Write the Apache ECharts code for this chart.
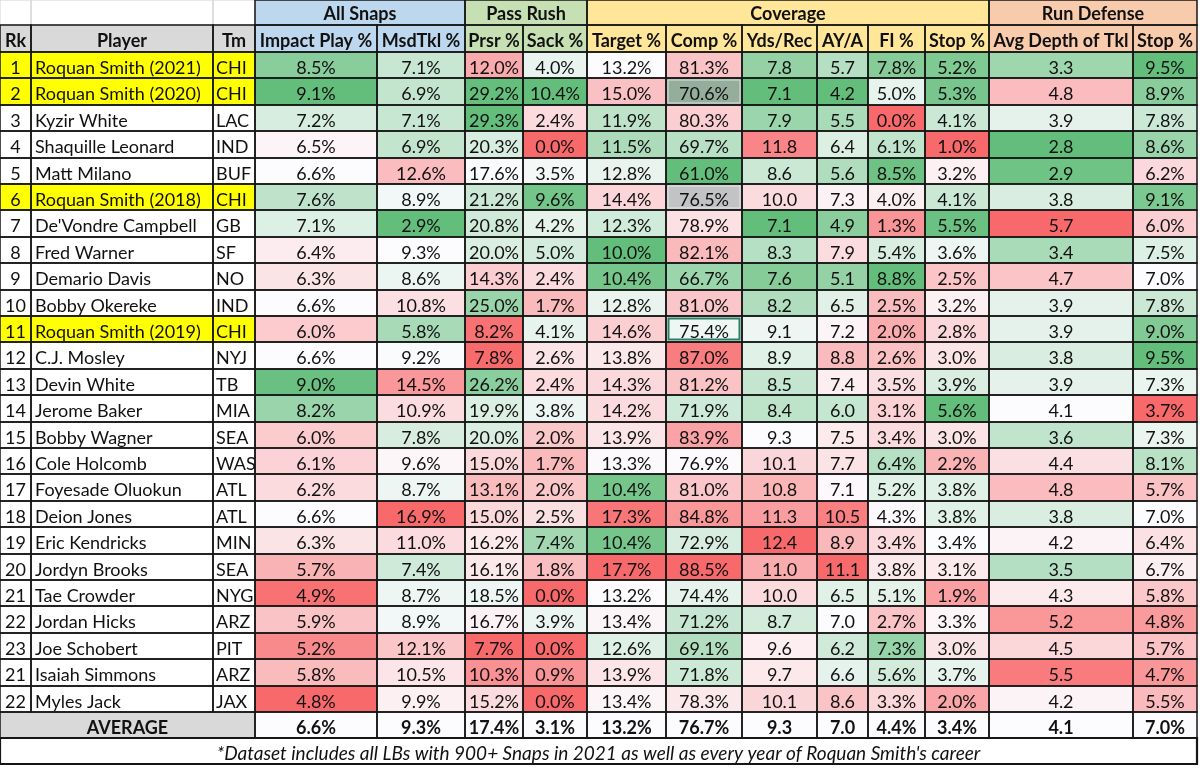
<!DOCTYPE html>
<html><head><meta charset="utf-8">
<script src="https://cdn.jsdelivr.net/npm/echarts@6/dist/echarts.min.js"></script>
<style>html,body{margin:0;padding:0;background:#fff}#c{width:1200px;height:769px}</style>
</head><body><div id="c"></div>
<script>
// ---------------- DATA ----------------
const ranks = ['1','2','3','4','5','6','7','8','9','10','11','12','13','14','15','16','17','18','19','20','21','22','23','21','22'];
const players = ['Roquan Smith (2021)','Roquan Smith (2020)','Kyzir White','Shaquille Leonard','Matt Milano','Roquan Smith (2018)',"De'Vondre Campbell",'Fred Warner','Demario Davis','Bobby Okereke','Roquan Smith (2019)','C.J. Mosley','Devin White','Jerome Baker','Bobby Wagner','Cole Holcomb','Foyesade Oluokun','Deion Jones','Eric Kendricks','Jordyn Brooks','Tae Crowder','Jordan Hicks','Joe Schobert','Isaiah Simmons','Myles Jack'];
const teams = ['CHI','CHI','LAC','IND','BUF','CHI','GB','SF','NO','IND','CHI','NYJ','TB','MIA','SEA','WAS','ATL','ATL','MIN','SEA','NYG','ARZ','PIT','ARZ','JAX'];
const impactPlay = [8.5,9.1,7.2,6.5,6.6,7.6,7.1,6.4,6.3,6.6,6.0,6.6,9.0,8.2,6.0,6.1,6.2,6.6,6.3,5.7,4.9,5.9,5.2,5.8,4.8];
const msdTkl     = [7.1,6.9,7.1,6.9,12.6,8.9,2.9,9.3,8.6,10.8,5.8,9.2,14.5,10.9,7.8,9.6,8.7,16.9,11.0,7.4,8.7,8.9,12.1,10.5,9.9];
const prsr       = [12.0,29.2,29.3,20.3,17.6,21.2,20.8,20.0,14.3,25.0,8.2,7.8,26.2,19.9,20.0,15.0,13.1,15.0,16.2,16.1,18.5,16.7,7.7,10.3,15.2];
const sack       = [4.0,10.4,2.4,0.0,3.5,9.6,4.2,5.0,2.4,1.7,4.1,2.6,2.4,3.8,2.0,1.7,2.0,2.5,7.4,1.8,0.0,3.9,0.0,0.9,0.0];
const target     = [13.2,15.0,11.9,11.5,12.8,14.4,12.3,10.0,10.4,12.8,14.6,13.8,14.3,14.2,13.9,13.3,10.4,17.3,10.4,17.7,13.2,13.4,12.6,13.9,13.4];
const comp       = [81.3,70.6,80.3,69.7,61.0,76.5,78.9,82.1,66.7,81.0,75.4,87.0,81.2,71.9,83.9,76.9,81.0,84.8,72.9,88.5,74.4,71.2,69.1,71.8,78.3];
const ydsRec     = [7.8,7.1,7.9,11.8,8.6,10.0,7.1,8.3,7.6,8.2,9.1,8.9,8.5,8.4,9.3,10.1,10.8,11.3,12.4,11.0,10.0,8.7,9.6,9.7,10.1];
const ayA        = [5.7,4.2,5.5,6.4,5.6,7.3,4.9,7.9,5.1,6.5,7.2,8.8,7.4,6.0,7.5,7.7,7.1,10.5,8.9,11.1,6.5,7.0,6.2,6.6,8.6];
const fi         = [7.8,5.0,0.0,6.1,8.5,4.0,1.3,5.4,8.8,2.5,2.0,2.6,3.5,3.1,3.4,6.4,5.2,4.3,3.4,3.8,5.1,2.7,7.3,5.6,3.3];
const covStop    = [5.2,5.3,4.1,1.0,3.2,4.1,5.5,3.6,2.5,3.2,2.8,3.0,3.9,5.6,3.0,2.2,3.8,3.8,3.4,3.1,1.9,3.3,3.0,3.7,2.0];
const tklDepth   = [3.3,4.8,3.9,2.8,2.9,3.8,5.7,3.4,4.7,3.9,3.9,3.8,3.9,4.1,3.6,4.4,4.8,3.8,4.2,3.5,4.3,5.2,4.5,5.5,4.2];
const runStop    = [9.5,8.9,7.8,8.6,6.2,9.1,6.0,7.5,7.0,7.8,9.0,9.5,7.3,3.7,7.3,8.1,5.7,7.0,6.4,6.7,5.8,4.8,5.7,4.7,5.5];
const averages   = [6.6,9.3,17.4,3.1,13.2,76.7,9.3,7.0,4.4,3.4,4.1,7.0];
const groupNames = ['All Snaps','Pass Rush','Coverage','Run Defense'];
const columnNames = ['Rk','Player','Tm','Impact Play %','MsdTkl %','Prsr %','Sack %','Target %','Comp %','Yds/Rec','AY/A','FI %','Stop %','Avg Depth of Tkl','Stop %'];
const averageLabel = 'AVERAGE';
const footnote = "*Dataset includes all LBs with 900+ Snaps in 2021 as well as every year of Roquan Smith's career";

// ---------------- LAYOUT / STYLE ----------------
const metrics = [impactPlay,msdTkl,prsr,sack,target,comp,ydsRec,ayA,fi,covStop,tklDepth,runStop];
const isPct = [1,1,1,1,1,1,0,0,1,1,0,1];
const higherBetter = [1,0,1,1,0,0,0,0,1,1,0,1];
const COL_EDGES = [0,31,213,255,377,465,523,587,666,742,817,868,925,989,1133,1197];
const GROUP_SPANS = [[3,4],[5,6],[7,12],[13,14]];
const GROUP_FILLS = ['#BDD7EE','#C6E0B4','#FFE699','#F8CBAD'];
const Y_GROUP = [0,25], Y_HEAD = [25,52], DATA_TOP = 52, ROW_H = 26.4;
const Y_AVG = [712,738], Y_FOOT = [738,764];
const FONT = 'Lato, "Open Sans", sans-serif';
const FS = 18;
const LINE = '#161616';
const RED = '#F8696B', MID = '#FCFCFF', GREEN = '#63BE7B';
const specialCells = { '1_5': {fill:'#95AE9B', inner:'#DADFDB', innerW:1}, '5_5': {fill:'#C2C3C5', inner:'#E6E6E6', innerW:1}, '10_5': {inner:'#2E7D66', innerW:2} };

function hex(c){return [parseInt(c.slice(1,3),16),parseInt(c.slice(3,5),16),parseInt(c.slice(5,7),16)];}
function mix(a,b,t){const A=hex(a),B=hex(b);return 'rgb('+A.map((v,i)=>Math.round(v+(B[i]-v)*t)).join(',')+')';}
function scaleColor(m, v){
  const arr = metrics[m], mid = averages[m];
  const mn = Math.min(...arr), mx = Math.max(...arr);
  const hi = higherBetter[m] ? GREEN : RED, lo = higherBetter[m] ? RED : GREEN;
  if (v >= mid) return mix(MID, hi, mx===mid?0:Math.min(1,(v-mid)/(mx-mid)));
  return mix(MID, lo, mn===mid?0:Math.min(1,(mid-v)/(mid-mn)));
}
function rowY(i){return [Math.round(DATA_TOP+i*ROW_H), Math.round(DATA_TOP+(i+1)*ROW_H)];}

const cells = [];
function add(c){cells.push(Object.assign({stroke:LINE, lw:1.5, align:'center', bold:false, italic:false, color:'#111', pad:0, size:FS, dy:3}, c));}

// group header row
add({x0:COL_EDGES[0],x1:COL_EDGES[1],y0:Y_GROUP[0],y1:Y_GROUP[1],fill:'#fff',stroke:'#D4D4D4',lw:1,text:''});
add({x0:COL_EDGES[1],x1:COL_EDGES[2],y0:Y_GROUP[0],y1:Y_GROUP[1],fill:'#fff',stroke:'#D4D4D4',lw:1,text:''});
add({x0:COL_EDGES[2],x1:COL_EDGES[3],y0:Y_GROUP[0],y1:Y_GROUP[1],fill:'#fff',stroke:'#D4D4D4',lw:1,text:''});
GROUP_SPANS.forEach((s,g)=>add({x0:COL_EDGES[s[0]],x1:COL_EDGES[s[1]+1],y0:Y_GROUP[0],y1:Y_GROUP[1],fill:GROUP_FILLS[g],text:groupNames[g],bold:true,dy:2}));
// column header row
columnNames.forEach((n,c)=>{
  let fill = '#D9D9D9';
  GROUP_SPANS.forEach((s,g)=>{ if(c>=s[0]&&c<=s[1]) fill = GROUP_FILLS[g]; });
  add({x0:COL_EDGES[c],x1:COL_EDGES[c+1],y0:Y_HEAD[0],y1:Y_HEAD[1],fill,text:n,bold:true});
});
// data rows
players.forEach((p,i)=>{
  const [y0,y1] = rowY(i);
  const hl = p.indexOf('Roquan Smith')===0 ? '#FFFF00' : '#FFFFFF';
  add({x0:COL_EDGES[0],x1:COL_EDGES[1],y0,y1,fill:hl,text:ranks[i]});
  add({x0:COL_EDGES[1],x1:COL_EDGES[2],y0,y1,fill:hl,text:p,align:'left',pad:4});
  add({x0:COL_EDGES[2],x1:COL_EDGES[3],y0,y1,fill:hl,text:teams[i],align:'left',pad:3});
  metrics.forEach((arr,m)=>{
    const v = arr[i];
    const sp = specialCells[i+'_'+m] || {};
    add({x0:COL_EDGES[m+3],x1:COL_EDGES[m+4],y0,y1,fill:sp.fill||scaleColor(m,v),inner:sp.inner,innerW:sp.innerW,text:v.toFixed(1)+(isPct[m]?'%':'')});
  });
});
// average row
add({x0:COL_EDGES[0],x1:COL_EDGES[3],y0:Y_AVG[0],y1:Y_AVG[1],fill:'#D9D9D9',text:averageLabel,bold:true});
averages.forEach((v,m)=>add({x0:COL_EDGES[m+3],x1:COL_EDGES[m+4],y0:Y_AVG[0],y1:Y_AVG[1],fill:'#FCFCFF',text:v.toFixed(1)+(isPct[m]?'%':''),bold:true}));
// footnote
add({x0:COL_EDGES[0],x1:COL_EDGES[COL_EDGES.length-1],y0:Y_FOOT[0],y1:Y_FOOT[1],fill:'#fff',text:footnote,italic:true,lw:2.2,size:19,dy:3});

function renderItem(params, api){
  const c = cells[params.dataIndex];
  const p0 = api.coord([api.value(0), api.value(2)]);
  const p1 = api.coord([api.value(1), api.value(3)]);
  const x = p0[0], y = p0[1], w = p1[0]-p0[0], h = p1[1]-p0[1];
  const ch = [{type:'rect', shape:{x,y,width:w,height:h}, style:{fill:c.fill}, z2:0}];
  if (c.inner) ch.push({type:'rect', shape:{x:x+1.5+c.innerW/2,y:y+1.5+c.innerW/2,width:w-3-c.innerW,height:h-3-c.innerW}, style:{fill:'none',stroke:c.inner,lineWidth:c.innerW}, z2:2});
  ch.push({type:'rect', shape:{x,y,width:w,height:h}, style:{fill:'none',stroke:c.stroke,lineWidth:c.lw}, z2:c.stroke===LINE?10:5});
  if (c.text){
    const tx = c.align==='left' ? x+c.pad : x+w/2;
    ch.push({type:'text', x:tx, y:y+h/2+c.dy, style:{text:c.text, fill:c.color, align:c.align, verticalAlign:'middle',
      font:(c.italic?'italic ':'')+(c.bold?'bold ':'')+c.size+'px '+FONT}, z2:20});
  }
  return {type:'group', children:ch};
}

const chart = echarts.init(document.getElementById('c'), null, {renderer:'canvas'});
chart.setOption({
  animation:false,
  grid:{left:0,right:0,top:0,bottom:0},
  xAxis:{type:'value',min:0,max:1200,show:false},
  yAxis:{type:'value',min:0,max:769,inverse:true,show:false},
  series:[{type:'custom', renderItem, encode:{x:[0,1],y:[2,3]}, data:cells.map(c=>[c.x0,c.x1,c.y0,c.y1]), clip:false}]
});
</script></body></html>
